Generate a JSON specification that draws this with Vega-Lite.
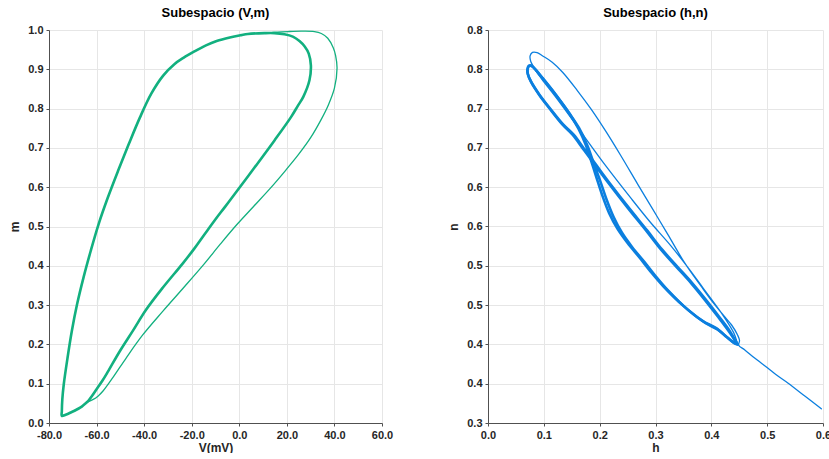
{
  "$schema": "https://vega.github.io/schema/vega-lite/v6.json",
  "padding": {"left": 8, "top": 7, "right": 0, "bottom": 0},
  "bounds": "flush",
  "spacing": 106,
  "config": {
    "view": {"stroke": null},
    "font": "Liberation Sans",
    "title": {"font": "Liberation Sans", "fontSize": 13, "fontWeight": "bold", "color": "#000000", "offset": 4},
    "axis": {
      "labelFont": "Liberation Sans", "labelFontWeight": "bold", "labelFontSize": 11, "labelColor": "#262626",
      "titleFont": "Liberation Sans", "titleFontWeight": "bold", "titleFontSize": 12, "titleColor": "#262626",
      "domainColor": "#505050", "tickColor": "#505050", "tickSize": 3, "labelFlush": false,
      "gridColor": "#e6e6e6", "gridWidth": 1
    },
    "axisX": {"labelPadding": 3, "titlePadding": 2},
    "axisY": {"labelPadding": 3, "titlePadding": 6}
  },
  "datasets": {
    "vm": [
      {"seg": "transient", "i": 1, "V": -64.0, "m": 0.053},
      {"seg": "transient", "i": 2, "V": -61.4, "m": 0.060},
      {"seg": "transient", "i": 3, "V": -59.3, "m": 0.069},
      {"seg": "transient", "i": 4, "V": -57.2, "m": 0.082},
      {"seg": "transient", "i": 5, "V": -53.1, "m": 0.116},
      {"seg": "transient", "i": 6, "V": -47.5, "m": 0.166},
      {"seg": "transient", "i": 7, "V": -40.6, "m": 0.224},
      {"seg": "transient", "i": 8, "V": -32.2, "m": 0.284},
      {"seg": "transient", "i": 9, "V": -23.9, "m": 0.341},
      {"seg": "transient", "i": 10, "V": -15.0, "m": 0.403},
      {"seg": "transient", "i": 11, "V": -8.0, "m": 0.455},
      {"seg": "transient", "i": 12, "V": -1.0, "m": 0.505},
      {"seg": "transient", "i": 13, "V": 6.0, "m": 0.551},
      {"seg": "transient", "i": 14, "V": 13.0, "m": 0.597},
      {"seg": "transient", "i": 15, "V": 19.5, "m": 0.643},
      {"seg": "transient", "i": 16, "V": 25.0, "m": 0.684},
      {"seg": "transient", "i": 17, "V": 30.0, "m": 0.726},
      {"seg": "transient", "i": 18, "V": 34.4, "m": 0.772},
      {"seg": "transient", "i": 19, "V": 37.5, "m": 0.810},
      {"seg": "transient", "i": 20, "V": 40.0, "m": 0.852},
      {"seg": "transient", "i": 21, "V": 41.1, "m": 0.903},
      {"seg": "transient", "i": 22, "V": 40.5, "m": 0.935},
      {"seg": "transient", "i": 23, "V": 39.5, "m": 0.955},
      {"seg": "transient", "i": 24, "V": 37.2, "m": 0.979},
      {"seg": "transient", "i": 25, "V": 34.5, "m": 0.991},
      {"seg": "transient", "i": 26, "V": 31.6, "m": 0.996},
      {"seg": "transient", "i": 27, "V": 26.0, "m": 0.997},
      {"seg": "transient", "i": 28, "V": 20.4, "m": 0.996},
      {"seg": "transient", "i": 29, "V": 14.0, "m": 0.994},
      {"seg": "limit", "i": 1, "V": -63.5, "m": 0.056},
      {"seg": "limit", "i": 2, "V": -61.8, "m": 0.070},
      {"seg": "limit", "i": 3, "V": -60.0, "m": 0.086},
      {"seg": "limit", "i": 4, "V": -57.5, "m": 0.108},
      {"seg": "limit", "i": 5, "V": -55.1, "m": 0.132},
      {"seg": "limit", "i": 6, "V": -50.3, "m": 0.182},
      {"seg": "limit", "i": 7, "V": -44.7, "m": 0.235},
      {"seg": "limit", "i": 8, "V": -39.2, "m": 0.288},
      {"seg": "limit", "i": 9, "V": -32.2, "m": 0.344},
      {"seg": "limit", "i": 10, "V": -23.9, "m": 0.405},
      {"seg": "limit", "i": 11, "V": -19.0, "m": 0.443},
      {"seg": "limit", "i": 12, "V": -14.5, "m": 0.481},
      {"seg": "limit", "i": 13, "V": -10.3, "m": 0.516},
      {"seg": "limit", "i": 14, "V": -6.0, "m": 0.550},
      {"seg": "limit", "i": 15, "V": -2.0, "m": 0.582},
      {"seg": "limit", "i": 16, "V": 6.4, "m": 0.650},
      {"seg": "limit", "i": 17, "V": 14.8, "m": 0.719},
      {"seg": "limit", "i": 18, "V": 21.8, "m": 0.779},
      {"seg": "limit", "i": 19, "V": 24.6, "m": 0.807},
      {"seg": "limit", "i": 20, "V": 26.9, "m": 0.830},
      {"seg": "limit", "i": 21, "V": 29.5, "m": 0.872},
      {"seg": "limit", "i": 22, "V": 30.1, "m": 0.910},
      {"seg": "limit", "i": 23, "V": 29.2, "m": 0.940},
      {"seg": "limit", "i": 24, "V": 27.5, "m": 0.958},
      {"seg": "limit", "i": 25, "V": 25.3, "m": 0.972},
      {"seg": "limit", "i": 26, "V": 22.5, "m": 0.983},
      {"seg": "limit", "i": 27, "V": 19.0, "m": 0.989},
      {"seg": "limit", "i": 28, "V": 14.8, "m": 0.992},
      {"seg": "limit", "i": 29, "V": 10.6, "m": 0.992},
      {"seg": "limit", "i": 30, "V": 3.6, "m": 0.990},
      {"seg": "limit", "i": 31, "V": 0.8, "m": 0.987},
      {"seg": "limit", "i": 32, "V": -4.0, "m": 0.981},
      {"seg": "limit", "i": 33, "V": -9.5, "m": 0.972},
      {"seg": "limit", "i": 34, "V": -14.0, "m": 0.961},
      {"seg": "limit", "i": 35, "V": -18.7, "m": 0.946},
      {"seg": "limit", "i": 36, "V": -23.5, "m": 0.929},
      {"seg": "limit", "i": 37, "V": -27.3, "m": 0.913},
      {"seg": "limit", "i": 38, "V": -32.0, "m": 0.884},
      {"seg": "limit", "i": 39, "V": -37.0, "m": 0.838},
      {"seg": "limit", "i": 40, "V": -41.8, "m": 0.777},
      {"seg": "limit", "i": 41, "V": -46.5, "m": 0.709},
      {"seg": "limit", "i": 42, "V": -51.0, "m": 0.641},
      {"seg": "limit", "i": 43, "V": -55.3, "m": 0.573},
      {"seg": "limit", "i": 44, "V": -59.2, "m": 0.505},
      {"seg": "limit", "i": 45, "V": -62.5, "m": 0.437},
      {"seg": "limit", "i": 46, "V": -65.5, "m": 0.370},
      {"seg": "limit", "i": 47, "V": -68.2, "m": 0.302},
      {"seg": "limit", "i": 48, "V": -70.4, "m": 0.234},
      {"seg": "limit", "i": 49, "V": -72.2, "m": 0.166},
      {"seg": "limit", "i": 50, "V": -73.8, "m": 0.098},
      {"seg": "limit", "i": 51, "V": -74.4, "m": 0.060},
      {"seg": "limit", "i": 52, "V": -74.6, "m": 0.030},
      {"seg": "limit", "i": 53, "V": -74.6, "m": 0.018},
      {"seg": "limit", "i": 54, "V": -73.0, "m": 0.021},
      {"seg": "limit", "i": 55, "V": -71.1, "m": 0.026},
      {"seg": "limit", "i": 56, "V": -66.9, "m": 0.039},
      {"seg": "limit", "i": 57, "V": -63.5, "m": 0.056}
    ],
    "hn": [
      {"cyc": "c1", "seg": "transient", "i": 1, "h": 0.597, "n": 0.318},
      {"cyc": "c1", "seg": "transient", "i": 2, "h": 0.568, "n": 0.334},
      {"cyc": "c1", "seg": "transient", "i": 3, "h": 0.537, "n": 0.351},
      {"cyc": "c1", "seg": "transient", "i": 4, "h": 0.515, "n": 0.362},
      {"cyc": "c1", "seg": "transient", "i": 5, "h": 0.501, "n": 0.370},
      {"cyc": "c1", "seg": "transient", "i": 6, "h": 0.477, "n": 0.383},
      {"cyc": "c1", "seg": "transient", "i": 7, "h": 0.460, "n": 0.393},
      {"cyc": "c1", "seg": "transient", "i": 8, "h": 0.449, "n": 0.399},
      {"cyc": "c1", "seg": "transient", "i": 9, "h": 0.4505, "n": 0.405},
      {"cyc": "c1", "seg": "transient", "i": 10, "h": 0.447, "n": 0.412},
      {"cyc": "c1", "seg": "transient", "i": 11, "h": 0.436, "n": 0.425},
      {"cyc": "c1", "seg": "transient", "i": 12, "h": 0.4235, "n": 0.4355},
      {"cyc": "c1", "seg": "transient", "i": 13, "h": 0.400, "n": 0.456},
      {"cyc": "c1", "seg": "transient", "i": 14, "h": 0.3816, "n": 0.474},
      {"cyc": "c1", "seg": "transient", "i": 15, "h": 0.352, "n": 0.504},
      {"cyc": "c1", "seg": "transient", "i": 16, "h": 0.322, "n": 0.540},
      {"cyc": "c1", "seg": "transient", "i": 17, "h": 0.295, "n": 0.572},
      {"cyc": "c1", "seg": "transient", "i": 18, "h": 0.268, "n": 0.604},
      {"cyc": "c1", "seg": "transient", "i": 19, "h": 0.238, "n": 0.640},
      {"cyc": "c1", "seg": "transient", "i": 20, "h": 0.212, "n": 0.670},
      {"cyc": "c1", "seg": "transient", "i": 21, "h": 0.185, "n": 0.699},
      {"cyc": "c1", "seg": "transient", "i": 22, "h": 0.160, "n": 0.723},
      {"cyc": "c1", "seg": "transient", "i": 23, "h": 0.134, "n": 0.746},
      {"cyc": "c1", "seg": "transient", "i": 24, "h": 0.115, "n": 0.759},
      {"cyc": "c1", "seg": "transient", "i": 25, "h": 0.098, "n": 0.767},
      {"cyc": "c1", "seg": "transient", "i": 26, "h": 0.088, "n": 0.7712},
      {"cyc": "c1", "seg": "transient", "i": 27, "h": 0.0797, "n": 0.7715},
      {"cyc": "c1", "seg": "transient", "i": 28, "h": 0.0754, "n": 0.767},
      {"cyc": "c1", "seg": "transient", "i": 29, "h": 0.0766, "n": 0.760},
      {"cyc": "c1", "seg": "transient", "i": 30, "h": 0.0826, "n": 0.752},
      {"cyc": "c1", "seg": "transient", "i": 31, "h": 0.0886, "n": 0.745},
      {"cyc": "c1", "seg": "transient", "i": 32, "h": 0.100, "n": 0.734},
      {"cyc": "c1", "seg": "transient", "i": 33, "h": 0.120, "n": 0.716},
      {"cyc": "c1", "seg": "transient", "i": 34, "h": 0.150, "n": 0.687},
      {"cyc": "c1", "seg": "transient", "i": 35, "h": 0.180, "n": 0.657},
      {"cyc": "c1", "seg": "transient", "i": 36, "h": 0.210, "n": 0.628},
      {"cyc": "c1", "seg": "transient", "i": 37, "h": 0.256, "n": 0.586},
      {"cyc": "c1", "seg": "transient", "i": 38, "h": 0.290, "n": 0.556},
      {"cyc": "c1", "seg": "transient", "i": 39, "h": 0.328, "n": 0.525},
      {"cyc": "c1", "seg": "transient", "i": 40, "h": 0.358, "n": 0.498},
      {"cyc": "c1", "seg": "transient", "i": 41, "h": 0.385, "n": 0.472},
      {"cyc": "c1", "seg": "transient", "i": 42, "h": 0.420, "n": 0.438},
      {"cyc": "c1", "seg": "transient", "i": 43, "h": 0.440, "n": 0.415},
      {"cyc": "c1", "seg": "transient", "i": 44, "h": 0.446, "n": 0.403},
      {"cyc": "c2", "seg": "limit", "i": 1, "h": 0.447, "n": 0.400},
      {"cyc": "c2", "seg": "limit", "i": 2, "h": 0.430, "n": 0.418},
      {"cyc": "c2", "seg": "limit", "i": 3, "h": 0.4116, "n": 0.4355},
      {"cyc": "c2", "seg": "limit", "i": 4, "h": 0.388, "n": 0.457},
      {"cyc": "c2", "seg": "limit", "i": 5, "h": 0.3637, "n": 0.478},
      {"cyc": "c2", "seg": "limit", "i": 6, "h": 0.337, "n": 0.499},
      {"cyc": "c2", "seg": "limit", "i": 7, "h": 0.310, "n": 0.5205},
      {"cyc": "c2", "seg": "limit", "i": 8, "h": 0.283, "n": 0.545},
      {"cyc": "c2", "seg": "limit", "i": 9, "h": 0.250, "n": 0.574},
      {"cyc": "c2", "seg": "limit", "i": 10, "h": 0.214, "n": 0.607},
      {"cyc": "c2", "seg": "limit", "i": 11, "h": 0.190, "n": 0.630},
      {"cyc": "c2", "seg": "limit", "i": 12, "h": 0.170, "n": 0.649},
      {"cyc": "c2", "seg": "limit", "i": 13, "h": 0.1514, "n": 0.6668},
      {"cyc": "c2", "seg": "limit", "i": 14, "h": 0.1335, "n": 0.6795},
      {"cyc": "c2", "seg": "limit", "i": 15, "h": 0.1095, "n": 0.7008},
      {"cyc": "c2", "seg": "limit", "i": 16, "h": 0.0915, "n": 0.7177},
      {"cyc": "c2", "seg": "limit", "i": 17, "h": 0.0766, "n": 0.7346},
      {"cyc": "c2", "seg": "limit", "i": 18, "h": 0.0712, "n": 0.744},
      {"cyc": "c2", "seg": "limit", "i": 19, "h": 0.0707, "n": 0.750},
      {"cyc": "c2", "seg": "limit", "i": 20, "h": 0.0730, "n": 0.7545},
      {"cyc": "c2", "seg": "limit", "i": 21, "h": 0.0775, "n": 0.7548},
      {"cyc": "c2", "seg": "limit", "i": 22, "h": 0.0825, "n": 0.7517},
      {"cyc": "c2", "seg": "limit", "i": 23, "h": 0.0976, "n": 0.739},
      {"cyc": "c2", "seg": "limit", "i": 24, "h": 0.1215, "n": 0.7177},
      {"cyc": "c2", "seg": "limit", "i": 25, "h": 0.1453, "n": 0.6944},
      {"cyc": "c2", "seg": "limit", "i": 26, "h": 0.163, "n": 0.6753},
      {"cyc": "c2", "seg": "limit", "i": 27, "h": 0.178, "n": 0.653},
      {"cyc": "c2", "seg": "limit", "i": 28, "h": 0.190, "n": 0.629},
      {"cyc": "c2", "seg": "limit", "i": 29, "h": 0.200, "n": 0.610},
      {"cyc": "c2", "seg": "limit", "i": 30, "h": 0.212, "n": 0.585},
      {"cyc": "c2", "seg": "limit", "i": 31, "h": 0.225, "n": 0.562},
      {"cyc": "c2", "seg": "limit", "i": 32, "h": 0.240, "n": 0.542},
      {"cyc": "c2", "seg": "limit", "i": 33, "h": 0.258, "n": 0.524},
      {"cyc": "c2", "seg": "limit", "i": 34, "h": 0.280, "n": 0.505},
      {"cyc": "c2", "seg": "limit", "i": 35, "h": 0.300, "n": 0.487},
      {"cyc": "c2", "seg": "limit", "i": 36, "h": 0.322, "n": 0.469},
      {"cyc": "c2", "seg": "limit", "i": 37, "h": 0.358, "n": 0.444},
      {"cyc": "c2", "seg": "limit", "i": 38, "h": 0.390, "n": 0.427},
      {"cyc": "c2", "seg": "limit", "i": 39, "h": 0.4116, "n": 0.4187},
      {"cyc": "c2", "seg": "limit", "i": 40, "h": 0.430, "n": 0.408},
      {"cyc": "c2", "seg": "limit", "i": 41, "h": 0.4414, "n": 0.4018},
      {"cyc": "c2", "seg": "limit", "i": 42, "h": 0.447, "n": 0.400},
      {"cyc": "c3", "seg": "limit", "i": 1, "h": 0.447, "n": 0.400},
      {"cyc": "c3", "seg": "limit", "i": 2, "h": 0.432, "n": 0.418},
      {"cyc": "c3", "seg": "limit", "i": 3, "h": 0.4136, "n": 0.4355},
      {"cyc": "c3", "seg": "limit", "i": 4, "h": 0.390, "n": 0.457},
      {"cyc": "c3", "seg": "limit", "i": 5, "h": 0.3657, "n": 0.478},
      {"cyc": "c3", "seg": "limit", "i": 6, "h": 0.339, "n": 0.499},
      {"cyc": "c3", "seg": "limit", "i": 7, "h": 0.312, "n": 0.5205},
      {"cyc": "c3", "seg": "limit", "i": 8, "h": 0.285, "n": 0.545},
      {"cyc": "c3", "seg": "limit", "i": 9, "h": 0.252, "n": 0.574},
      {"cyc": "c3", "seg": "limit", "i": 10, "h": 0.216, "n": 0.607},
      {"cyc": "c3", "seg": "limit", "i": 11, "h": 0.192, "n": 0.630},
      {"cyc": "c3", "seg": "limit", "i": 12, "h": 0.172, "n": 0.649},
      {"cyc": "c3", "seg": "limit", "i": 13, "h": 0.1534, "n": 0.6668},
      {"cyc": "c3", "seg": "limit", "i": 14, "h": 0.1350, "n": 0.6795},
      {"cyc": "c3", "seg": "limit", "i": 15, "h": 0.1105, "n": 0.7008},
      {"cyc": "c3", "seg": "limit", "i": 16, "h": 0.0922, "n": 0.7177},
      {"cyc": "c3", "seg": "limit", "i": 17, "h": 0.0770, "n": 0.7346},
      {"cyc": "c3", "seg": "limit", "i": 18, "h": 0.0715, "n": 0.744},
      {"cyc": "c3", "seg": "limit", "i": 19, "h": 0.0710, "n": 0.750},
      {"cyc": "c3", "seg": "limit", "i": 20, "h": 0.0733, "n": 0.7540},
      {"cyc": "c3", "seg": "limit", "i": 21, "h": 0.0778, "n": 0.7543},
      {"cyc": "c3", "seg": "limit", "i": 22, "h": 0.0830, "n": 0.7512},
      {"cyc": "c3", "seg": "limit", "i": 23, "h": 0.0985, "n": 0.738},
      {"cyc": "c3", "seg": "limit", "i": 24, "h": 0.1225, "n": 0.7165},
      {"cyc": "c3", "seg": "limit", "i": 25, "h": 0.1460, "n": 0.6935},
      {"cyc": "c3", "seg": "limit", "i": 26, "h": 0.162, "n": 0.6745},
      {"cyc": "c3", "seg": "limit", "i": 27, "h": 0.175, "n": 0.654},
      {"cyc": "c3", "seg": "limit", "i": 28, "h": 0.185, "n": 0.633},
      {"cyc": "c3", "seg": "limit", "i": 29, "h": 0.194, "n": 0.613},
      {"cyc": "c3", "seg": "limit", "i": 30, "h": 0.205, "n": 0.589},
      {"cyc": "c3", "seg": "limit", "i": 31, "h": 0.217, "n": 0.567},
      {"cyc": "c3", "seg": "limit", "i": 32, "h": 0.232, "n": 0.547},
      {"cyc": "c3", "seg": "limit", "i": 33, "h": 0.250, "n": 0.529},
      {"cyc": "c3", "seg": "limit", "i": 34, "h": 0.272, "n": 0.510},
      {"cyc": "c3", "seg": "limit", "i": 35, "h": 0.292, "n": 0.492},
      {"cyc": "c3", "seg": "limit", "i": 36, "h": 0.314, "n": 0.474},
      {"cyc": "c3", "seg": "limit", "i": 37, "h": 0.350, "n": 0.449},
      {"cyc": "c3", "seg": "limit", "i": 38, "h": 0.384, "n": 0.430},
      {"cyc": "c3", "seg": "limit", "i": 39, "h": 0.408, "n": 0.421},
      {"cyc": "c3", "seg": "limit", "i": 40, "h": 0.428, "n": 0.409},
      {"cyc": "c3", "seg": "limit", "i": 41, "h": 0.440, "n": 0.402},
      {"cyc": "c3", "seg": "limit", "i": 42, "h": 0.447, "n": 0.400}
    ]
  },
  "hconcat": [
    {
      "width": 333,
      "height": 393,
      "title": "Subespacio (V,m)",
      "data": {"name": "vm"},
      "mark": {"type": "line", "color": "#12b07f", "strokeJoin": "round", "strokeCap": "round", "interpolate": "catmull-rom"},
      "encoding": {
        "x": {"field": "V", "type": "quantitative", "scale": {"domain": [-80, 60], "nice": false, "zero": false},
              "axis": {"title": "V(mV)", "values": [-80, -60, -40, -20, 0, 20, 40, 60], "labelExpr": "replace(format(datum.value, '.1f'), '\u2212', '-')"}},
        "y": {"field": "m", "type": "quantitative", "scale": {"domain": [0, 1], "nice": false},
              "axis": {"title": "m", "values": [0, 0.1, 0.2, 0.3, 0.4, 0.5, 0.6, 0.7, 0.8, 0.9, 1.0], "format": ".1f"}},
        "detail": {"field": "seg", "type": "nominal"},
        "order": {"field": "i", "type": "quantitative"},
        "strokeWidth": {"field": "seg", "type": "ordinal", "scale": {"domain": ["transient", "limit"], "range": [1.3, 2.6]}, "legend": null}
      }
    },
    {
      "width": 335,
      "height": 393,
      "title": "Subespacio (h,n)",
      "data": {"name": "hn"},
      "mark": {"type": "line", "color": "#0b7fdf", "strokeJoin": "round", "strokeCap": "round", "interpolate": "catmull-rom"},
      "encoding": {
        "x": {"field": "h", "type": "quantitative", "scale": {"domain": [0, 0.6], "nice": false, "zero": false},
              "axis": {"title": "h", "values": [0, 0.1, 0.2, 0.3, 0.4, 0.5, 0.6], "format": ".1f"}},
        "y": {"field": "n", "type": "quantitative", "scale": {"domain": [0.3, 0.8], "nice": false, "zero": false},
              "axis": {"title": "n", "values": [0.3, 0.35, 0.4, 0.45, 0.5, 0.55, 0.6, 0.65, 0.7, 0.75, 0.8], "labelExpr": "format(datum.value + 0.000001, '.1f')"}},
        "detail": {"field": "cyc", "type": "nominal"},
        "order": {"field": "i", "type": "quantitative"},
        "strokeWidth": {"field": "seg", "type": "ordinal", "scale": {"domain": ["transient", "limit"], "range": [1.3, 1.4]}, "legend": null}
      }
    }
  ]
}
